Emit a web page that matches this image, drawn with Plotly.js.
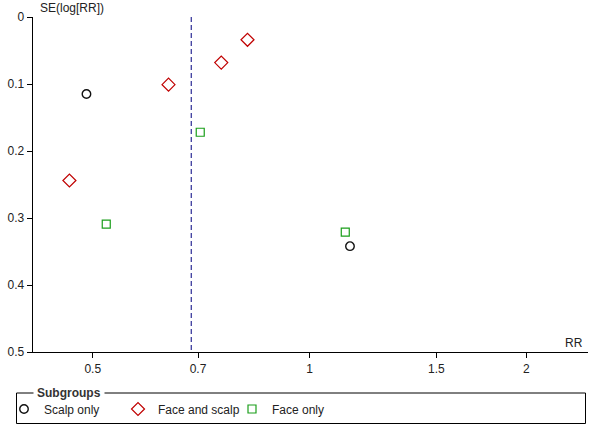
<!DOCTYPE html>
<html>
<head>
<meta charset="utf-8">
<script src="https://cdn.plot.ly/plotly-3.0.1.min.js"></script>
<style>html,body{margin:0;padding:0;background:#fff;}#chart{width:600px;height:428px;}</style>
</head>
<body>
<div id="chart"></div>
<script>
// Data
const scalpRR = [0.490, 1.138];
const scalpSE = [0.115, 0.342];
const faceScalpRR = [0.637, 0.754, 0.820, 0.464];
const faceScalpSE = [0.101, 0.068, 0.034, 0.244];
const faceRR = [0.705, 0.522, 1.121];
const faceSE = [0.172, 0.309, 0.321];
const pooledRR = 0.685;
const xTicks = [0.5, 0.7, 1, 1.5, 2];
const xTickText = ['0.5', '0.7', '1', '1.5', '2'];
const yTicks = [0, 0.1, 0.2, 0.3, 0.4, 0.5];
const yTickText = ['0', '0.1', '0.2', '0.3', '0.4', '0.5'];
const groupNames = ['Scalp only', 'Face and scalp', 'Face only'];

const FONT = 'Liberation Sans, Arial, sans-serif';

const traces = [
  {x: scalpRR, y: scalpSE, name: groupNames[0], type: 'scatter', mode: 'markers',
   marker: {symbol: 'circle-open', size: 8.5, color: '#111111', line: {width: 1.4, color: '#111111'}}},
  {x: faceScalpRR, y: faceScalpSE, name: groupNames[1], type: 'scatter', mode: 'markers',
   marker: {symbol: 'diamond-open', size: 10, color: '#c00000', line: {width: 1.2, color: '#c00000'}}},
  {x: faceRR, y: faceSE, name: groupNames[2], type: 'scatter', mode: 'markers',
   marker: {symbol: 'square-open', size: 8, color: '#1a9e1a', line: {width: 1.2, color: '#1a9e1a'}}}
];

const L = 33, T = 17, W = 555, H = 335, R = 12, B = 76;
function px2paperX(p){ return (p - L) / W; }
function px2paperY(p){ return (T + H - p) / H; }

const layout = {
  width: 600, height: 428,
  margin: {l: L, r: R, t: T, b: B, pad: 0, autoexpand: false},
  paper_bgcolor: '#fff', plot_bgcolor: '#fff',
  font: {family: FONT, size: 12, color: '#222'},
  showlegend: true,
  legend: {
    orientation: 'h', x: px2paperX(4), xanchor: 'left', y: px2paperY(409), yanchor: 'middle',
    entrywidth: 69, entrywidthmode: 'pixels', bgcolor: 'rgba(0,0,0,0)',
    font: {family: FONT, size: 12, color: '#222'}, itemclick: false
  },
  xaxis: {
    type: 'log', range: [Math.log10(0.413), Math.log10(2.436)],
    tickvals: xTicks, ticktext: xTickText,
    showline: true, linecolor: '#000', linewidth: 1.3,
    ticks: 'outside', ticklen: 5, tickcolor: '#000', tickwidth: 1,
    showgrid: false, zeroline: false, fixedrange: true,
    tickfont: {family: FONT, size: 12, color: '#222'}
  },
  yaxis: {
    range: [0.5, 0], tickvals: yTicks, ticktext: yTickText,
    showline: true, linecolor: '#000', linewidth: 1.3,
    ticks: 'outside', ticklen: 5, tickcolor: '#000', tickwidth: 1,
    showgrid: false, zeroline: false, fixedrange: true,
    tickfont: {family: FONT, size: 12, color: '#222'}
  },
  shapes: [
    {type: 'line', xref: 'x', yref: 'y', x0: pooledRR, x1: pooledRR, y0: 0, y1: 0.5,
     line: {color: '#000080', width: 1, dash: '5px,3px'}},
    {type: 'rect', xref: 'paper', yref: 'paper',
     x0: px2paperX(16.5), x1: px2paperX(585.5), y0: px2paperY(393), y1: px2paperY(423.5),
     line: {color: '#000', width: 1}, fillcolor: 'rgba(0,0,0,0)'}
  ],
  annotations: [
    {text: 'SE(log[RR])', xref: 'paper', yref: 'paper', x: px2paperX(38), y: px2paperY(8.5),
     xanchor: 'left', yanchor: 'middle', showarrow: false, font: {family: FONT, size: 12, color: '#222'}},
    {text: 'RR', xref: 'paper', yref: 'paper', x: px2paperX(585), y: px2paperY(343),
     xanchor: 'right', yanchor: 'middle', showarrow: false, font: {family: FONT, size: 12, color: '#222'}},
    {text: '<b>Subgroups</b>', xref: 'paper', yref: 'paper', x: px2paperX(33), y: px2paperY(393),
     xanchor: 'left', yanchor: 'middle', showarrow: false, bgcolor: '#fff', borderpad: 3,
     font: {family: FONT, size: 12, color: '#333'}}
  ]
};

Plotly.newPlot('chart', traces, layout, {displayModeBar: false, staticPlot: true});
</script>
</body>
</html>
